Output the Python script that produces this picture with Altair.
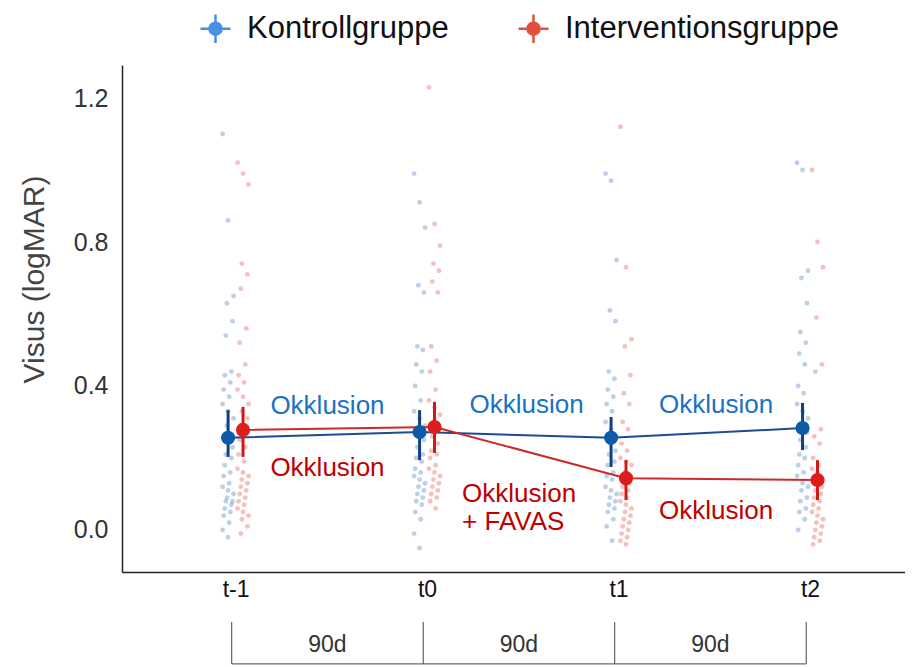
import json
import altair as alt
import pandas as pd

# ---------------- data ----------------
times = ["t-1", "t0", "t1", "t2"]
groups = ["Kontrollgruppe", "Interventionsgruppe"]
intervals = ["90d", "90d", "90d"]
y_ticks = [0.0, 0.4, 0.8, 1.2]

kontroll_mean = [0.256, 0.272, 0.256, 0.283]
kontroll_low = [0.203, 0.194, 0.175, 0.222]
kontroll_high = [0.333, 0.333, 0.314, 0.353]

intervention_mean = [0.278, 0.286, 0.144, 0.139]
intervention_low = [0.203, 0.214, 0.083, 0.083]
intervention_high = [0.342, 0.356, 0.194, 0.194]

kontroll_tm1 = [1.10, 0.86, 0.65, 0.63, 0.58, 0.54, 0.44, 0.43, 0.41, 0.39, 0.37, 0.35, 0.33,
                0.31, 0.29, 0.23, 0.21, 0.20, 0.18, 0.16, 0.15, 0.13, 0.12, 0.11, 0.10,
                0.09, 0.08, 0.08, 0.07, 0.06, 0.05, 0.04, 0.02, 0.00, -0.02]
intervention_tm1 = [1.02, 0.99, 0.96, 0.74, 0.71, 0.67, 0.56, 0.52, 0.46, 0.43, 0.41, 0.39,
                    0.37, 0.35, 0.33, 0.31, 0.29, 0.27, 0.25, 0.23, 0.21, 0.19, 0.17, 0.16,
                    0.15, 0.14, 0.13, 0.12, 0.11, 0.10, 0.09, 0.08, 0.07, 0.06, 0.05, 0.04,
                    0.03, 0.01, -0.01]
kontroll_t0 = [0.99, 0.91, 0.84, 0.68, 0.66, 0.51, 0.50, 0.46, 0.44, 0.40, 0.36, 0.33, 0.31,
               0.29, 0.27, 0.25, 0.23, 0.21, 0.20, 0.19, 0.17, 0.16, 0.15, 0.14, 0.13, 0.12,
               0.11, 0.10, 0.09, 0.08, 0.07, 0.05, 0.03, -0.01, -0.05]
intervention_t0 = [1.23, 0.85, 0.79, 0.74, 0.72, 0.69, 0.66, 0.51, 0.47, 0.44, 0.39, 0.36,
                   0.34, 0.32, 0.30, 0.28, 0.26, 0.24, 0.22, 0.21, 0.20, 0.18, 0.17, 0.16,
                   0.15, 0.14, 0.13, 0.12, 0.11, 0.10, 0.09, 0.08, 0.06]
kontroll_t1 = [0.99, 0.97, 0.75, 0.61, 0.58, 0.44, 0.42, 0.39, 0.37, 0.35, 0.33, 0.30, 0.28,
               0.26, 0.24, 0.22, 0.21, 0.19, 0.18, 0.16, 0.15, 0.14, 0.12, 0.11, 0.10, 0.09,
               0.08, 0.07, 0.06, 0.05, 0.03, 0.01, -0.03]
intervention_t1 = [1.12, 0.73, 0.53, 0.51, 0.43, 0.38, 0.35, 0.30, 0.28, 0.24, 0.22, 0.20,
                   0.19, 0.18, 0.16, 0.15, 0.14, 0.13, 0.12, 0.11, 0.10, 0.09, 0.08, 0.07,
                   0.06, 0.05, 0.04, 0.03, 0.02, 0.01, 0.00, -0.01, -0.02, -0.03, -0.04]
kontroll_t2 = [1.02, 1.00, 0.72, 0.70, 0.63, 0.55, 0.52, 0.49, 0.46, 0.40, 0.38, 0.35, 0.33,
               0.31, 0.29, 0.27, 0.25, 0.23, 0.21, 0.20, 0.18, 0.16, 0.15, 0.13, 0.12, 0.11,
               0.09, 0.08, 0.06, 0.05, 0.03, 0.00]
intervention_t2 = [1.00, 0.80, 0.73, 0.59, 0.46, 0.44, 0.28, 0.26, 0.24, 0.20, 0.18, 0.17,
                   0.16, 0.14, 0.13, 0.12, 0.11, 0.10, 0.09, 0.08, 0.07, 0.06, 0.05, 0.04,
                   0.03, 0.02, 0.01, 0.00, -0.01, -0.02, -0.03, -0.04]

# annotation labels (text, group, x in time units, y in logMAR, alignment)
annotations = [
    ("Okklusion", "Kontrollgruppe", 0.48, 0.344, "center"),
    ("Okklusion", "Kontrollgruppe", 1.52, 0.347, "center"),
    ("Okklusion", "Kontrollgruppe", 2.51, 0.347, "center"),
    ("Okklusion", "Interventionsgruppe", 0.48, 0.172, "center"),
    ("Okklusion", "Interventionsgruppe", 1.183, 0.100, "left"),
    ("+ FAVAS", "Interventionsgruppe", 1.183, 0.022, "left"),
    ("Okklusion", "Interventionsgruppe", 2.51, 0.053, "center"),
]

# ---------------- styling ----------------
FONT = "Liberation Sans"
legend_colors = ["#4A90E2", "#E0503F"]
point_colors = ["#2E6DB0", "#D8403C"]
dot_colors = ["#0E5AA7", "#DD1C1C"]
bar_colors = ["#123F86", "#D01A1A"]
line_colors = ["#1F4A94", "#CC2A2A"]
annot_colors = ["#1A72C2", "#C00000"]

dodge = {"Kontrollgruppe": -0.039, "Interventionsgruppe": 0.039}
PX = 1 / 191.5  # one pixel in time units

# ---------------- tables ----------------
clusters = {
    "Kontrollgruppe": [kontroll_tm1, kontroll_t0, kontroll_t1, kontroll_t2],
    "Interventionsgruppe": [intervention_tm1, intervention_t0, intervention_t1, intervention_t2],
}
rows = []
for g in groups:
    for i, vals in enumerate(clusters[g]):
        for k, v in enumerate(vals):
            spread = (((k * 5) % 11) - 5) / 5.0 * 5.5 * PX
            rows.append({"group": g, "x": i + dodge[g] + spread, "y": v})
df_points = pd.DataFrame(rows)

means = {
    "Kontrollgruppe": (kontroll_mean, kontroll_low, kontroll_high),
    "Interventionsgruppe": (intervention_mean, intervention_low, intervention_high),
}
rows = []
for g in groups:
    m, lo, hi = means[g]
    for i in range(len(times)):
        rows.append({"group": g, "x": i + dodge[g], "y": m[i], "lo": lo[i], "hi": hi[i]})
df_means = pd.DataFrame(rows)

df_annot = pd.DataFrame(annotations, columns=["text", "group", "x", "y", "align"])

bracket_top, bracket_bottom, bracket_text = -0.2556, -0.372, -0.319
df_vert = pd.DataFrame({"x": [i - 0.02 for i in range(len(times))],
                        "y": [bracket_top] * len(times), "y2": [bracket_bottom] * len(times)})
df_horiz = pd.DataFrame({"x": [-0.02], "x2": [len(times) - 1 - 0.02], "y": [bracket_bottom]})
df_int = pd.DataFrame({"x": [i + 0.5 - 0.02 for i in range(len(intervals))],
                       "y": [bracket_text] * len(intervals), "text": intervals})

# ---------------- scales / axes ----------------
xscale = alt.Scale(domain=[-0.593, 3.496], nice=False, zero=False)
yscale = alt.Scale(domain=[-0.1167, 1.2917], nice=False, zero=False)
xaxis = alt.Axis(values=list(range(len(times))), labelExpr=json.dumps(times) + "[datum.value]",
                 title=None, ticks=False, grid=False, labelFontSize=23, labelFont=FONT,
                 labelColor="#111111", labelPadding=6, domainColor="#222222", domainWidth=1.5,
                 labelFlush=False)
yaxis = alt.Axis(values=y_ticks, format=".1f", title="Visus (logMAR)", titleFontSize=30,
                 titleFont=FONT, titleColor="#444444", titleFontWeight="normal",
                 titleX=-79, titleY=214, titleBaseline="alphabetic", titleAngle=270,
                 ticks=False, grid=False, labelFontSize=25, labelFont=FONT,
                 labelColor="#333333", labelPadding=14, domainColor="#222222",
                 domainWidth=1.5)


def X(f="x"):
    return alt.X(f"{f}:Q", scale=xscale, axis=xaxis)


def Y(f="y"):
    return alt.Y(f"{f}:Q", scale=yscale, axis=yaxis)


def C(rng):
    return alt.Color("group:N", scale=alt.Scale(domain=groups, range=rng), legend=None)


points = alt.Chart(df_points).mark_circle(size=24, opacity=0.32).encode(
    x=X(), y=Y(), color=C(point_colors))

lines = alt.Chart(df_means).mark_line(strokeWidth=2).encode(
    x=X(), y=Y(), color=C(line_colors), detail="group:N", order="x:Q")

bars = alt.Chart(df_means).mark_rule(strokeWidth=3).encode(
    x=X(), y=Y("lo"), y2="hi:Q", color=C(bar_colors))

dots = alt.Chart(df_means).mark_circle(size=200, opacity=1).encode(
    x=X(), y=Y(), color=C(dot_colors))

annot_c = alt.Chart(df_annot).transform_filter("datum.align == 'center'").mark_text(
    fontSize=26, font=FONT, align="center", baseline="middle").encode(
    x=X(), y=Y(), text="text:N", color=C(annot_colors))
annot_l = alt.Chart(df_annot).transform_filter("datum.align == 'left'").mark_text(
    fontSize=26, font=FONT, align="left", baseline="middle").encode(
    x=X(), y=Y(), text="text:N", color=C(annot_colors))

vert = alt.Chart(df_vert).mark_rule(color="#444444", strokeWidth=1).encode(
    x=X(), y=Y(), y2="y2:Q")
horiz = alt.Chart(df_horiz).mark_rule(color="#444444", strokeWidth=1).encode(
    x=X(), x2="x2:Q", y=Y())
int_text = alt.Chart(df_int).mark_text(fontSize=23, font=FONT, color="#333333",
                                       baseline="middle").encode(x=X(), y=Y(), text="text:N")

CROSS = ("M-1,0L1,0M0,-0.95L0,0.95"
         "M-0.4,0A0.4,0.4,0,1,1,0.4,0A0.4,0.4,0,1,1,-0.4,0Z")
leg = alt.Legend(orient="none", legendX=77, legendY=-53, direction="horizontal", title=None,
                 labelFontSize=31, labelFont=FONT, labelColor="#111111", symbolType=CROSS,
                 symbolSize=900, symbolStrokeWidth=2.5, symbolOpacity=1, labelOffset=15,
                 columnPadding=64, padding=0, labelLimit=600)
legend_df = pd.DataFrame({"group": groups, "x": [1.5, 1.5], "y": [0.6, 0.6]})
legend_layer = alt.Chart(legend_df).mark_point(shape=CROSS, filled=True, opacity=0,
                                               strokeWidth=2.5, size=900).encode(
    x=X(), y=Y(),
    fill=alt.Fill("group:N", scale=alt.Scale(domain=groups, range=legend_colors), legend=leg),
    stroke=alt.Stroke("group:N", scale=alt.Scale(domain=groups, range=legend_colors), legend=leg),
)

chart = alt.layer(
    points, lines, bars, dots, annot_c, annot_l, vert, horiz, int_text, legend_layer
).resolve_scale(color="independent").properties(
    width=783, height=507,
    autosize=alt.AutoSizeParams(type="none"),
    padding={"left": 114, "top": 57, "right": 0, "bottom": 94},
    background="white",
).configure_view(stroke=None)

chart.save("out.html", embed_options={"renderer": "svg", "actions": False})
